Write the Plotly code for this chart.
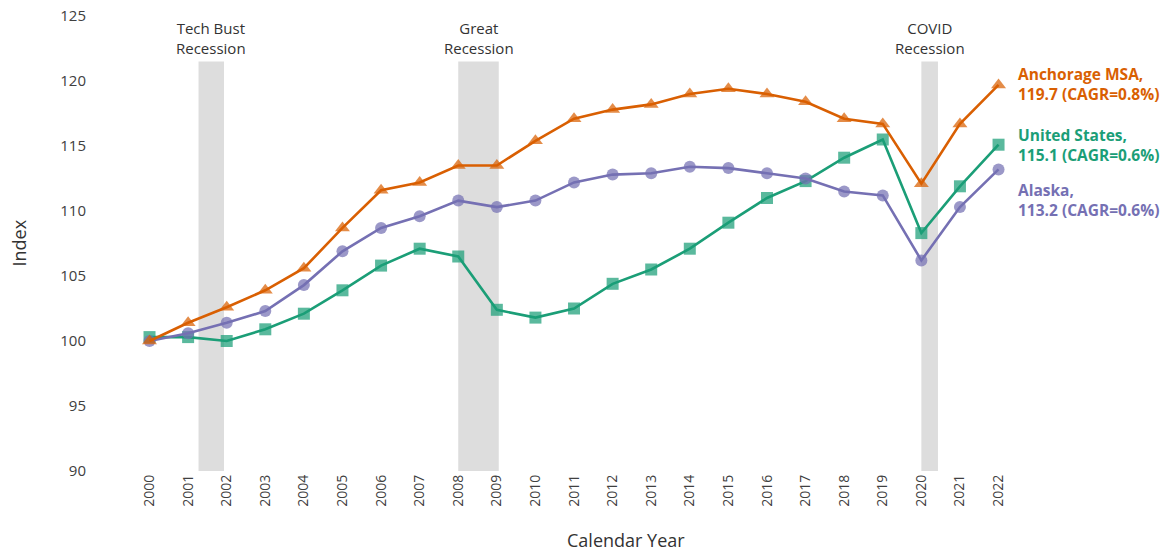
import plotly.graph_objects as go

years = list(range(2000, 2023))
anchorage = [100.0, 101.4, 102.6, 103.9, 105.6, 108.7, 111.6, 112.2, 113.5, 113.5, 115.4,
             117.1, 117.8, 118.2, 119.0, 119.4, 119.0, 118.4, 117.1, 116.7, 112.1, 116.7, 119.7]
united_states = [100.3, 100.3, 100.0, 100.9, 102.1, 103.9, 105.8, 107.1, 106.5, 102.4, 101.8,
                 102.5, 104.4, 105.5, 107.1, 109.1, 111.0, 112.3, 114.1, 115.5, 108.3, 111.9, 115.1]
alaska = [100.0, 100.6, 101.4, 102.3, 104.3, 106.9, 108.7, 109.6, 110.8, 110.3, 110.8,
          112.2, 112.8, 112.9, 113.4, 113.3, 112.9, 112.5, 111.5, 111.2, 106.2, 110.3, 113.2]

recession_names = ["Tech Bust<br>Recession", "Great<br>Recession", "COVID<br>Recession"]
recession_start = [2001.27, 2008.0, 2020.0]
recession_end = [2001.93, 2009.05, 2020.43]

end_labels = ["Anchorage MSA,<br>119.7 (CAGR=0.8%)",
              "United States,<br>115.1 (CAGR=0.6%)",
              "Alaska,<br>113.2 (CAGR=0.6%)"]
end_label_y = [119.8, 115.1, 110.85]

ORANGE = "#D95F02"
GREEN = "#1B9E77"
PURPLE = "#7570B3"
FONT = "Open Sans"

fig = go.Figure()

series = [
    ("United States", united_states, GREEN, "square", 12),
    ("Alaska", alaska, PURPLE, "circle", 12),
    ("Anchorage MSA", anchorage, ORANGE, "triangle-up", 13),
]
for name, vals, col, sym, sz in series:
    fig.add_trace(go.Scatter(
        x=years, y=vals, name=name, mode="lines+markers",
        line=dict(color=col, width=2.6),
        marker=dict(symbol=sym, size=sz, color=col, opacity=0.72),
        showlegend=False,
    ))

for nm, s, e in zip(recession_names, recession_start, recession_end):
    fig.add_shape(type="rect", xref="x", yref="y", x0=s, x1=e, y0=90, y1=121.5,
                  fillcolor="#DDDDDD", line=dict(width=0), layer="below")
    fig.add_annotation(x=(s + e) / 2, y=121.6, xref="x", yref="y", text=nm,
                       showarrow=False, yanchor="bottom", align="center",
                       font=dict(family=FONT, size=15, color="#333333"))

for txt, yv, col in zip(end_labels, end_label_y, [ORANGE, GREEN, PURPLE]):
    fig.add_annotation(x=1.0066, y=yv, xref="paper", yref="y", text="<b>" + txt + "</b>",
                       showarrow=False, xanchor="left", yanchor="middle", align="left",
                       font=dict(family=FONT, size=15.5, color=col))

fig.add_annotation(x=-0.0901, y=0.5, xref="paper", yref="paper", text="Index",
                   showarrow=False, textangle=-90, xanchor="center", yanchor="middle",
                   font=dict(family=FONT, size=18, color="#333333"))
fig.add_annotation(x=0.578, y=-0.1516, xref="paper", yref="paper", text="Calendar Year",
                   showarrow=False, xanchor="center", yanchor="middle",
                   font=dict(family=FONT, size=18, color="#333333"))

fig.update_layout(
    autosize=True,
    margin=dict(l=100, r=161, t=16, b=81),
    plot_bgcolor="white", paper_bgcolor="white",
    font=dict(family=FONT, color="#404040"),
    xaxis=dict(range=[1998.717, 2022.297], tickmode="array", tickvals=years,
               ticktext=[str(y) for y in years], tickangle=-90, showgrid=False,
               zeroline=False, showline=False, automargin=False,
               tickfont=dict(size=14, color="#404040")),
    yaxis=dict(range=[90, 125], tickvals=[90, 95, 100, 105, 110, 115, 120, 125],
               showgrid=False, zeroline=False, showline=False, automargin=False,
               ticklabelstandoff=13, tickfont=dict(size=15, color="#404040")),
)

fig.write_html("out.html", default_width="100%", default_height="100%")
